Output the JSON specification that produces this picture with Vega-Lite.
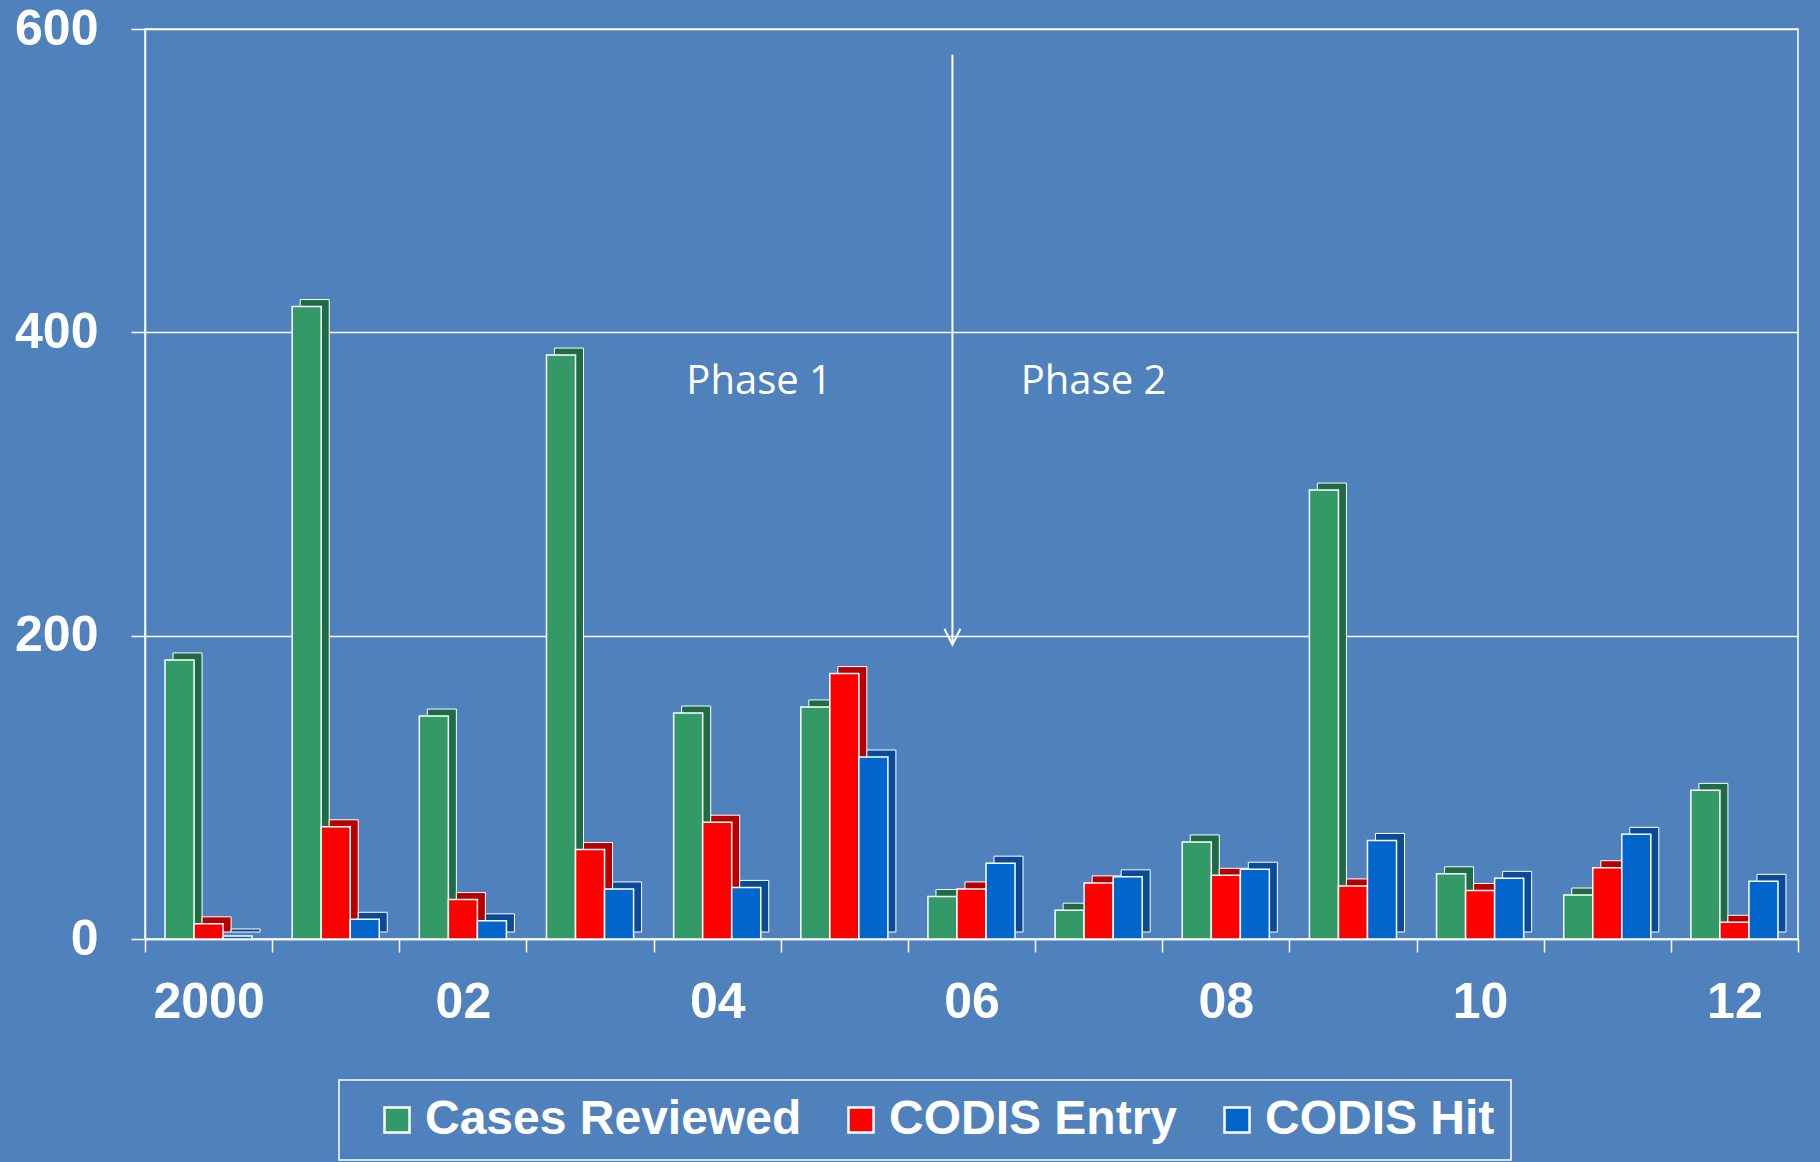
{
  "$schema": "https://vega.github.io/schema/vega-lite/v6.json",
  "width": 1653,
  "height": 910,
  "autosize": {"type": "none"},
  "padding": {"left": 145, "top": 29, "right": 22, "bottom": 223},
  "background": "#4F81BD",
  "config": {
    "view": {"stroke": "white", "strokeWidth": 1.5},
    "legend": {
      "orient": "none",
      "legendX": 194,
      "legendY": 1051,
      "direction": "horizontal",
      "labelFont": "Liberation Sans",
      "labelFontWeight": "bold",
      "labelFontSize": 48,
      "labelColor": "white",
      "labelLimit": 0,
      "symbolType": "square",
      "symbolSize": 625,
      "symbolStrokeColor": "white",
      "symbolStrokeWidth": 2.5,
      "symbolOpacity": 1,
      "symbolOffset": 18,
      "labelOffset": 4,
      "columnPadding": 17,
      "padding": 16,
      "strokeColor": "white",
      "strokeWidth": 1.5,
      "fillColor": "#4F81BD"
    }
  },
  "datasets": {
    "counts": [
      {"year": "2000", "series": "Cases Reviewed", "value": 184},
      {"year": "2000", "series": "CODIS Entry", "value": 10},
      {"year": "2000", "series": "CODIS Hit", "value": 2},
      {"year": "2001", "series": "Cases Reviewed", "value": 417},
      {"year": "2001", "series": "CODIS Entry", "value": 74},
      {"year": "2001", "series": "CODIS Hit", "value": 13},
      {"year": "2002", "series": "Cases Reviewed", "value": 147},
      {"year": "2002", "series": "CODIS Entry", "value": 26},
      {"year": "2002", "series": "CODIS Hit", "value": 12},
      {"year": "2003", "series": "Cases Reviewed", "value": 385},
      {"year": "2003", "series": "CODIS Entry", "value": 59},
      {"year": "2003", "series": "CODIS Hit", "value": 33},
      {"year": "2004", "series": "Cases Reviewed", "value": 149},
      {"year": "2004", "series": "CODIS Entry", "value": 77},
      {"year": "2004", "series": "CODIS Hit", "value": 34},
      {"year": "2005", "series": "Cases Reviewed", "value": 153},
      {"year": "2005", "series": "CODIS Entry", "value": 175},
      {"year": "2005", "series": "CODIS Hit", "value": 120},
      {"year": "2006", "series": "Cases Reviewed", "value": 28},
      {"year": "2006", "series": "CODIS Entry", "value": 33},
      {"year": "2006", "series": "CODIS Hit", "value": 50},
      {"year": "2007", "series": "Cases Reviewed", "value": 19},
      {"year": "2007", "series": "CODIS Entry", "value": 37},
      {"year": "2007", "series": "CODIS Hit", "value": 41},
      {"year": "2008", "series": "Cases Reviewed", "value": 64},
      {"year": "2008", "series": "CODIS Entry", "value": 42},
      {"year": "2008", "series": "CODIS Hit", "value": 46},
      {"year": "2009", "series": "Cases Reviewed", "value": 296},
      {"year": "2009", "series": "CODIS Entry", "value": 35},
      {"year": "2009", "series": "CODIS Hit", "value": 65},
      {"year": "2010", "series": "Cases Reviewed", "value": 43},
      {"year": "2010", "series": "CODIS Entry", "value": 32},
      {"year": "2010", "series": "CODIS Hit", "value": 40},
      {"year": "2011", "series": "Cases Reviewed", "value": 29},
      {"year": "2011", "series": "CODIS Entry", "value": 47},
      {"year": "2011", "series": "CODIS Hit", "value": 69},
      {"year": "2012", "series": "Cases Reviewed", "value": 98},
      {"year": "2012", "series": "CODIS Entry", "value": 11},
      {"year": "2012", "series": "CODIS Hit", "value": 38}
    ]
  },
  "layer": [
    {
      "data": {"name": "counts"},
      "mark": {"type": "bar", "yOffset": -7, "stroke": "white", "strokeWidth": 1},
      "encoding": {
        "x": {
          "field": "year", "type": "nominal", "title": null,
          "scale": {"paddingInner": 0, "paddingOuter": 0},
          "axis": {
            "tickBand": "extent",
            "labelExpr": "!isValid(datum.value) ? '' : (datum.value == '2000' ? '2000' : (toNumber(datum.value) % 2 == 0 ? substring(datum.value, 2) : ''))",
            "labelFont": "Liberation Sans", "labelFontWeight": "bold", "labelFontSize": 50,
            "labelColor": "white", "labelAngle": 0, "labelPadding": 25,
            "tickSize": 13, "tickColor": "white", "tickWidth": 1.5,
            "domainColor": "white", "domainWidth": 1.5, "grid": false
          }
        },
        "xOffset": {"field": "series", "type": "nominal", "sort": ["Cases Reviewed", "CODIS Entry", "CODIS Hit"], "scale": {"paddingOuter": 0.69, "paddingInner": 0, "range": [8, 135.15]}},
        "y": {
          "field": "value", "type": "quantitative", "title": null,
          "scale": {"domain": [0, 600], "nice": false},
          "axis": {
            "values": [0, 200, 400, 600],
            "labelFont": "Liberation Sans", "labelFontWeight": "bold", "labelFontSize": 50,
            "labelColor": "white", "labelPadding": 33,
            "tickSize": 14, "tickColor": "white", "tickWidth": 1.5,
            "domainColor": "white", "domainWidth": 1.5,
            "grid": true, "gridColor": "white", "gridWidth": 1.5
          }
        },
        "color": {
          "field": "series", "type": "nominal", "legend": null,
          "scale": {"domain": ["Cases Reviewed", "CODIS Entry", "CODIS Hit"], "range": ["#1E6B45", "#B80000", "#0B4A96"]}
        }
      }
    },
    {
      "data": {"name": "counts"},
      "mark": {"type": "bar", "stroke": "white", "strokeWidth": 1.5},
      "encoding": {
        "x": {"field": "year", "type": "nominal", "title": null},
        "xOffset": {"field": "series", "type": "nominal", "sort": ["Cases Reviewed", "CODIS Entry", "CODIS Hit"], "scale": {"paddingOuter": 0.69, "paddingInner": 0}},
        "y": {"field": "value", "type": "quantitative", "title": null},
        "fill": {
          "field": "series", "type": "nominal", "title": null,
          "sort": ["Cases Reviewed", "CODIS Entry", "CODIS Hit"],
          "scale": {"domain": ["Cases Reviewed", "CODIS Entry", "CODIS Hit"], "range": ["#339966", "#FF0000", "#0066CC"]}
        }
      }
    },
    {
      "data": {"values": [{"year": "2004", "value": 367, "label": "Phase 1"}]},
      "mark": {"type": "text", "font": "Open Sans", "fontSize": 40, "color": "white", "baseline": "middle", "align": "center"},
      "encoding": {
        "x": {"field": "year", "type": "nominal", "title": null, "bandPosition": 0.83},
        "y": {"field": "value", "type": "quantitative", "title": null},
        "text": {"field": "label"}
      }
    },
    {
      "data": {"values": [{"year": "2007", "value": 367, "label": "Phase 2"}]},
      "mark": {"type": "text", "font": "Open Sans", "fontSize": 40, "color": "white", "baseline": "middle", "align": "center"},
      "encoding": {
        "x": {"field": "year", "type": "nominal", "title": null, "bandPosition": 0.46},
        "y": {"field": "value", "type": "quantitative", "title": null},
        "text": {"field": "label"}
      }
    },
    {
      "data": {"values": [{"year": "2006", "value": 583, "end": 195}]},
      "mark": {"type": "rule", "color": "white", "strokeWidth": 2},
      "encoding": {
        "x": {"field": "year", "type": "nominal", "title": null, "bandPosition": 0.35},
        "y": {"field": "value", "type": "quantitative", "title": null},
        "y2": {"field": "end"}
      }
    },
    {
      "data": {"values": [{"year": "2006", "value": 194}]},
      "mark": {"type": "point", "shape": "M-1,-2L0,0L1,-2", "filled": false, "stroke": "white", "strokeWidth": 2, "size": 256, "opacity": 1},
      "encoding": {
        "x": {"field": "year", "type": "nominal", "title": null, "bandPosition": 0.35},
        "y": {"field": "value", "type": "quantitative", "title": null}
      }
    }
  ],
  "resolve": {"scale": {"color": "independent", "xOffset": "independent"}}
}
